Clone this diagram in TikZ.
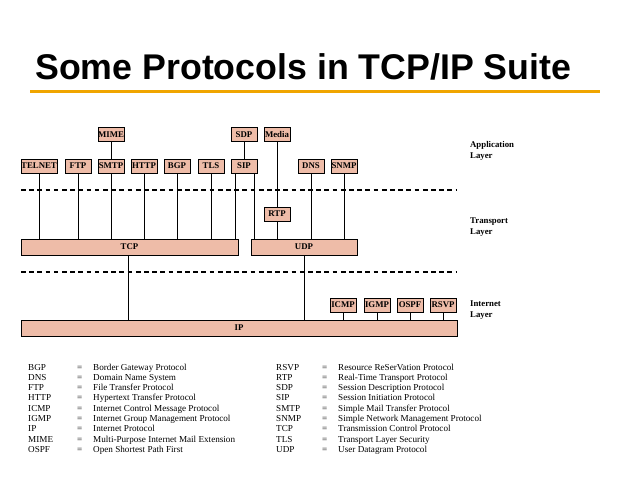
\documentclass[tikz,border=0pt]{standalone}
\usepackage{fontspec}
\setmainfont{Liberation Serif}
\newfontfamily\titlefont{Liberation Sans}
\definecolor{boxfill}{RGB}{238,188,168}
\definecolor{barline}{RGB}{240,165,0}
\tikzset{
  proto/.style={draw, fill=boxfill, line width=0.6pt, inner sep=0pt,
    minimum height=14*0.03cm, font=\fontsize{7.5}{8}\selectfont\bfseries},
  bus/.style={proto, minimum height=16*0.03cm},
  link/.style={line width=0.6pt},
  layer/.style={dashed, line width=1.2pt, dash pattern=on 4pt off 3pt},
  layername/.style={align=left, anchor=west, font=\fontsize{7.5}{9}\selectfont\bfseries},
  legend/.style={anchor=base west, inner sep=0pt, font=\fontsize{7.8}{9}\selectfont}
}
\begin{document}
\begin{tikzpicture}[x=0.03cm, y=-0.03cm]
\useasboundingbox (0,0) rectangle (638,479);

% title
\node [anchor=base west, inner sep=0pt, font=\titlefont\bfseries\fontsize{30.5}{34}\selectfont]
  (title) at (35,80) {Some Protocols in TCP/IP Suite};
\fill [barline] (30,90) rectangle (600,93);

% application layer boxes
\foreach \n/\t/\x/\w in {telnet/TELNET/39/36, ftp/FTP/78/26, smtp/SMTP/111/26,
    http/HTTP/144/26, bgp/BGP/177/26, tls/TLS/211/26, sip/SIP/244/26,
    dns/DNS/311/26, snmp/SNMP/344/26}
  \node [proto, minimum width=\w*0.03cm] (\n) at (\x,166) {\t};

\foreach \n/\t/\x in {mime/MIME/111, sdp/SDP/244, media/Media/277}
  \node [proto, minimum width=26*0.03cm] (\n) at (\x,134.5) {\t};

\node [proto, minimum width=26*0.03cm] (rtp) at (277,214) {RTP};

% transport and internet
\node [bus, minimum width=217*0.03cm] (tcp) at (129.5,247) {TCP};
\node [bus, minimum width=106*0.03cm] (udp) at (304,247) {UDP};
\node [bus, minimum width=436*0.03cm] (ip) at (239,328) {IP};

\foreach \n/\t/\x in {icmp/ICMP/343, igmp/IGMP/377, ospf/OSPF/410, rsvp/RSVP/443}
  \node [proto, minimum width=26*0.03cm] (\n) at (\x,305) {\t};

% layer separators
\draw [layer] (21,190) -- (457,190);
\draw [layer] (21,272) -- (457,272);

\node [layername] (app) at (466,151) {Application\\Layer};
\node [layername] (trans) at (466,227) {Transport\\Layer};
\node [layername] (inet) at (466,310) {Internet\\Layer};

% connectors
\foreach \n in {telnet, ftp, smtp, http, bgp, tls}
  \draw [link] (\n.south) -- (\n.south |- tcp.north);
\foreach \n in {dns, snmp}
  \draw [link] (\n.south) -- (\n.south |- udp.north);
\draw [link] ([xshift=-9*0.03cm]sip.south) -- ([xshift=-9*0.03cm]sip.south |- tcp.north);
\draw [link] ([xshift=10*0.03cm]sip.south) -- ([xshift=10*0.03cm]sip.south |- udp.north);
\draw [link] (mime) -- (smtp);
\draw [link] (sdp) -- (sip);
\draw [link] (media) -- (rtp);
\draw [link] (rtp) -- (rtp.south |- udp.north);
\draw [link] ([xshift=-1.5*0.03cm]tcp.south) -- ([xshift=-1.5*0.03cm]tcp.south |- ip.north);
\draw [link] (udp.south) -- (udp.south |- ip.north);
\foreach \n in {icmp, igmp, ospf, rsvp}
  \draw [link] (\n.south) -- (\n.south |- ip.north);

% legend
\foreach \a/\d [count=\i from 0] in {BGP/Border Gateway Protocol, DNS/Domain Name System,
    FTP/File Transfer Protocol, HTTP/Hypertext Transfer Protocol,
    ICMP/Internet Control Message Protocol, IGMP/Internet Group Management Protocol,
    IP/Internet Protocol, MIME/Multi-Purpose Internet Mail Extension,
    OSPF/Open Shortest Path First}
{
  \node [legend] (la-\i) at (28,{370+\i*10.3}) {\a};
  \node [legend] (le-\i) at (77,{370+\i*10.3}) {=};
  \node [legend] (ld-\i) at (93,{370+\i*10.3}) {\d};
}
\foreach \a/\d [count=\i from 0] in {RSVP/Resource ReSerVation Protocol,
    RTP/Real-Time Transport Protocol, SDP/Session Description Protocol,
    SIP/Session Initiation Protocol, SMTP/Simple Mail Transfer Protocol,
    SNMP/Simple Network Management Protocol, TCP/Transmission Control Protocol,
    TLS/Transport Layer Security, UDP/User Datagram Protocol}
{
  \node [legend] (ra-\i) at (276,{370+\i*10.3}) {\a};
  \node [legend] (re-\i) at (322,{370+\i*10.3}) {=};
  \node [legend] (rd-\i) at (338,{370+\i*10.3}) {\d};
}
\end{tikzpicture}
\end{document}
